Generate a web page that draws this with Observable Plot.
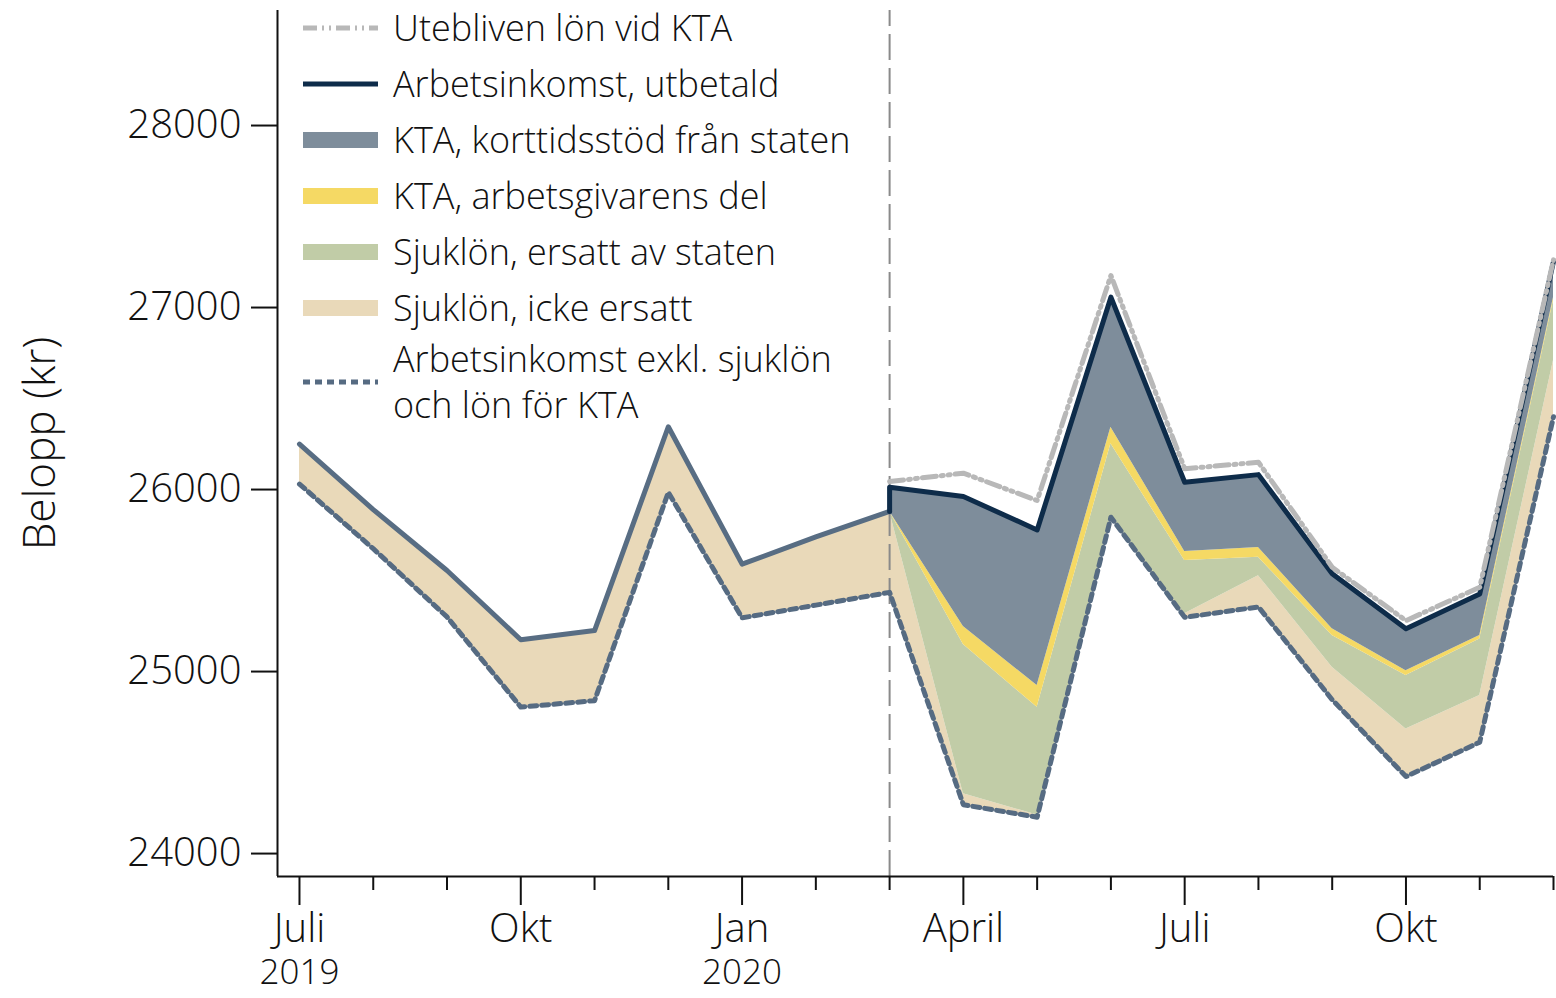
<!DOCTYPE html>
<html>
<head>
<meta charset="utf-8">
<script src="https://cdn.jsdelivr.net/npm/d3@7"></script>
<script src="https://cdn.jsdelivr.net/npm/@observablehq/plot@0.6"></script>
<style>
  html, body { margin: 0; padding: 0; background: #fff; }
  #wrap { position: relative; width: 1556px; height: 998px; font-family: "Open Sans", "Noto Sans", sans-serif; font-weight: 300; }
  #legend { position: absolute; left: 0; top: 0; }
  .li { position: absolute; left: 303px; display: flex; align-items: center; }
  .li .lab { position: absolute; left: 90px; white-space: nowrap; font-size: 36px; color: #111; line-height: 42px; }
</style>
</head>
<body>
<div id="wrap"><div id="legend"></div></div>
<script>
// ---- data (monthly, Juli 2019 – Dec 2020) ----
const months = ["2019-07","2019-08","2019-09","2019-10","2019-11","2019-12","2020-01","2020-02","2020-03","2020-04","2020-05","2020-06","2020-07","2020-08","2020-09","2020-10","2020-11","2020-12"];
const tickLabels = ["Juli","","","Okt","","","Jan","","","April","","","Juli","","","Okt","",""];
const yearLabels = ["2019","","","","","","2020","","","","","","","","","","",""];
// Arbetsinkomst exkl. sjuklön och lön för KTA (base)
const base = [26030,25675,25300,24805,24840,25985,25295,25365,25435,24268,24200,25848,25298,25355,24845,24423,24612,26400];
// Sjuklön, icke ersatt
const sjukIckeErsatt = [220,215,255,370,385,360,295,375,445,60,12,10,19,172,179,262,256,309];
// Sjuklön, ersatt av staten
const sjukErsatt = [0,0,0,0,0,0,0,0,0,820,592,393,293,101,174,293,311,331];
// KTA, arbetsgivarens del
const ktaArbetsgivare = [0,0,0,0,0,0,0,0,0,99,119,91,50,54,37,27,19,15];
// KTA, korttidsstöd från staten
const ktaStaten = [0,0,0,0,0,0,0,0,133,715,855,715,380,400,302,230,228,198];
// Utebliven lön vid KTA
const utebliven = [null,null,null,null,null,null,null,null,26044,26090,25940,27176,26114,26150,25573,25280,25463,27262];
const ktaStart = months.indexOf("2020-03");
const yTicks = [24000,25000,26000,27000,28000];
const yMin = 23874, yMax = 28632;
const xMin = -0.298, xMax = months.length - 1;

const colors = {
  tan: "#e9d9b9", green: "#c1cca7", yellow: "#f5d964", kta: "#7e8d9b",
  navy: "#0e2c4a", slate: "#586d83", dotted: "#566b82", dashdot: "#b8b8b8", vline: "#8a8a8a"
};

const rows = months.map((m, i) => {
  const b = base[i];
  const t = b + sjukIckeErsatt[i];
  const g = t + sjukErsatt[i];
  const y = g + ktaArbetsgivare[i];
  const k = y + ktaStaten[i];
  return {i, m, base: b, tan: t, green: g, yellow: y, total: k, ute: utebliven[i]};
});
const pre = rows.filter(d => d.i <= ktaStart);
const post = rows.filter(d => d.i >= ktaStart);
const navyLine = [{i: ktaStart, v: rows[ktaStart].tan}, ...post.map(d => ({i: d.i, v: d.total}))];
const majorIdx = tickLabels.map((l, i) => l ? i : null).filter(v => v !== null);
const minorIdx = tickLabels.map((l, i) => l ? null : i).filter(v => v !== null);
const yearIdx = yearLabels.map((l, i) => l ? i : null).filter(v => v !== null);

const chart = Plot.plot({
  width: 1556, height: 998,
  marginLeft: 277, marginRight: 3, marginTop: 10, marginBottom: 122,
  style: {fontFamily: '"Open Sans", "Noto Sans", sans-serif', fontWeight: 300, background: "#fff", color: "#111"},
  x: {domain: [xMin, xMax], axis: null},
  y: {domain: [yMin, yMax], axis: null},
  marks: [
    Plot.areaY(rows, {x: "i", y1: "base", y2: "tan", fill: colors.tan}),
    Plot.areaY(post, {x: "i", y1: "tan", y2: "green", fill: colors.green}),
    Plot.areaY(post, {x: "i", y1: "green", y2: "yellow", fill: colors.yellow}),
    Plot.areaY(post, {x: "i", y1: "yellow", y2: "total", fill: colors.kta}),
    Plot.ruleX([ktaStart], {y1: yMin, y2: yMax, stroke: colors.vline, strokeWidth: 2, strokeDasharray: "26,8"}),
    Plot.line(rows, {x: "i", y: "base", stroke: colors.dotted, strokeWidth: 5, strokeDasharray: "7,5"}),
    Plot.line(pre, {x: "i", y: "tan", stroke: colors.slate, strokeWidth: 5}),
    Plot.line(navyLine, {x: "i", y: "v", stroke: colors.navy, strokeWidth: 5}),
    Plot.line(post, {x: "i", y: "ute", stroke: colors.dashdot, strokeWidth: 5, strokeDasharray: "14,5,2,5,2,5"}),
    // axes
    Plot.ruleX([xMin], {stroke: "#111", strokeWidth: 2}),
    Plot.ruleY([yMin], {stroke: "#111", strokeWidth: 2}),
    Plot.axisY({ticks: yTicks, tickSize: 26, tickPadding: 10, tickFormat: d => String(d), fontSize: 40, label: null, stroke: "#111", strokeWidth: 2}),
    Plot.axisX({ticks: majorIdx, tickSize: 29, tickPadding: 8, tickFormat: i => tickLabels[i], fontSize: 40, label: null, stroke: "#111", strokeWidth: 2}),
    Plot.axisX({ticks: minorIdx, tickSize: 14, tickFormat: () => "", label: null, stroke: "#111", strokeWidth: 2}),
    Plot.axisX({ticks: yearIdx, tickSize: 0, tickPadding: 83, tickFormat: i => yearLabels[i], fontSize: 35, label: null, stroke: "none"}),
    Plot.text(["Belopp (kr)"], {frameAnchor: "left", rotate: -90, textAnchor: "middle", dx: -237, fontSize: 44, fill: "#111"})
  ]
});
document.getElementById("wrap").prepend(chart);

// ---- legend ----
const legendItems = [
  {label: "Utebliven lön vid KTA", kind: "line", color: colors.dashdot, dash: "14,5,2,5,2,5"},
  {label: "Arbetsinkomst, utbetald", kind: "line", color: colors.navy, dash: null},
  {label: "KTA, korttidsstöd från staten", kind: "box", color: colors.kta},
  {label: "KTA, arbetsgivarens del", kind: "box", color: colors.yellow},
  {label: "Sjuklön, ersatt av staten", kind: "box", color: colors.green},
  {label: "Sjuklön, icke ersatt", kind: "box", color: colors.tan},
  {label: "Arbetsinkomst exkl. sjuklön\noch lön för KTA", kind: "line", color: colors.dotted, dash: "7,5"}
];
const leg = document.getElementById("legend");
const lineGap = 46;
legendItems.forEach((it, k) => {
  const lines = it.label.split("\n");
  const cy = k < 6 ? 28 + k * 56 : 28 + 6 * 56 + 18;
  const div = document.createElement("div");
  div.className = "li";
  div.style.top = (cy - 10) + "px";
  const svgNS = "http://www.w3.org/2000/svg";
  const sw = document.createElementNS(svgNS, "svg");
  sw.setAttribute("width", 75); sw.setAttribute("height", 20);
  if (it.kind === "box") {
    const r = document.createElementNS(svgNS, "rect");
    r.setAttribute("x", 0); r.setAttribute("y", 2); r.setAttribute("width", 75); r.setAttribute("height", 16);
    r.setAttribute("fill", it.color);
    sw.appendChild(r);
  } else {
    const l = document.createElementNS(svgNS, "line");
    l.setAttribute("x1", 0); l.setAttribute("x2", 75); l.setAttribute("y1", 10); l.setAttribute("y2", 10);
    l.setAttribute("stroke", it.color); l.setAttribute("stroke-width", 5);
    if (it.dash) l.setAttribute("stroke-dasharray", it.dash);
    sw.appendChild(l);
  }
  div.appendChild(sw);
  lines.forEach((txt, j) => {
    const lab = document.createElement("div");
    lab.className = "lab";
    lab.style.top = (10 - 21 - (lines.length - 1) * lineGap / 2 + j * lineGap) + "px";
    lab.textContent = txt;
    div.appendChild(lab);
  });
  leg.appendChild(div);
});
</script>
</body>
</html>
